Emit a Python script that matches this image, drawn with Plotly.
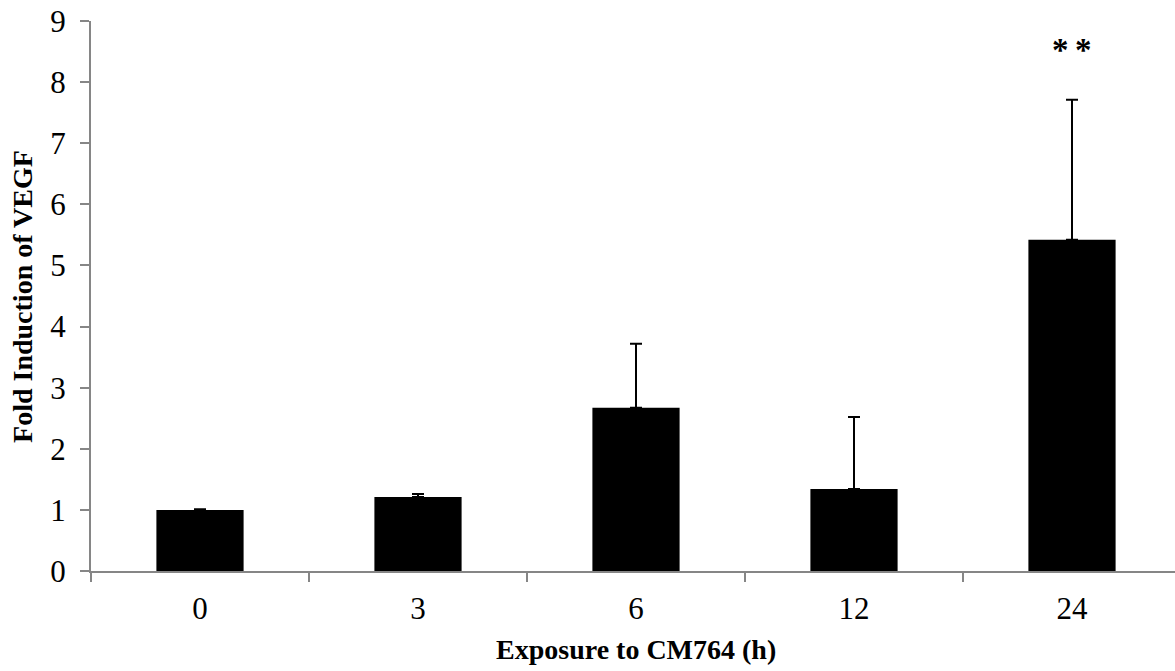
import plotly.graph_objects as go

categories = ["0", "3", "6", "12", "24"]
fold_induction = [1.0, 1.21, 2.67, 1.34, 5.42]
error_upper = [0.01, 0.05, 1.05, 1.18, 2.29]
significance = ["", "", "", "", "*\u2009*"]
y_ticks = list(range(0, 10))

AX = "#868686"
SERIF = "Liberation Serif, Times New Roman, serif"

fig = go.Figure()
fig.add_trace(go.Bar(
    x=list(range(len(categories))),
    y=fold_induction,
    width=0.4,
    marker=dict(color="black", line=dict(width=0)),
    error_y=dict(type="data", symmetric=False, array=error_upper,
                 arrayminus=[0] * len(error_upper),
                 color="black", thickness=2, width=6),
    showlegend=False,
    hoverinfo="skip",
))

for i, (v, e, s) in enumerate(zip(fold_induction, error_upper, significance)):
    if s:
        fig.add_annotation(x=i, y=v + e + 0.82, xref="x", yref="y", text="<b>" + s + "</b>",
                           showarrow=False,
                           font=dict(family=SERIF, size=33, color="black"),
                           xanchor="center", yanchor="middle")

fig.add_annotation(text="<b>Fold Induction of VEGF</b>", xref="paper", yref="paper",
                   x=-0.0637, y=0.5, textangle=-90, showarrow=False,
                   xanchor="center", yanchor="middle",
                   font=dict(family=SERIF, size=28, color="black"))
fig.add_annotation(text="<b>Exposure to CM764 (h)</b>", xref="x", yref="paper",
                   x=2, y=-0.142, showarrow=False,
                   xanchor="center", yanchor="middle",
                   font=dict(family=SERIF, size=28, color="black"))

fig.update_layout(
    width=1175, height=671,
    margin=dict(l=91, r=0, t=21, b=100),
    plot_bgcolor="white", paper_bgcolor="white",
    xaxis=dict(
        range=[-0.5, 4.4725],
        tickmode="array", tickvals=list(range(len(categories))), ticktext=categories,
        showline=True, linecolor=AX, linewidth=2,
        ticks="", showgrid=False, zeroline=False,
        minor=dict(tickmode="array", tickvals=[i - 0.5 for i in range(len(categories) + 1)],
                   ticks="outside", ticklen=9, tickcolor=AX, tickwidth=2, showgrid=False),
        tickfont=dict(family=SERIF, size=31, color="black"),
        ticklabelstandoff=9,
    ),
    yaxis=dict(
        range=[0, 9], tickvals=y_ticks,
        showline=True, linecolor=AX, linewidth=2,
        ticks="outside", ticklen=9, tickcolor=AX, tickwidth=2,
        showgrid=False, zeroline=False,
        tickfont=dict(family=SERIF, size=31, color="black"),
        ticklabelstandoff=8,
    ),
)

fig.write_html("out.html")
